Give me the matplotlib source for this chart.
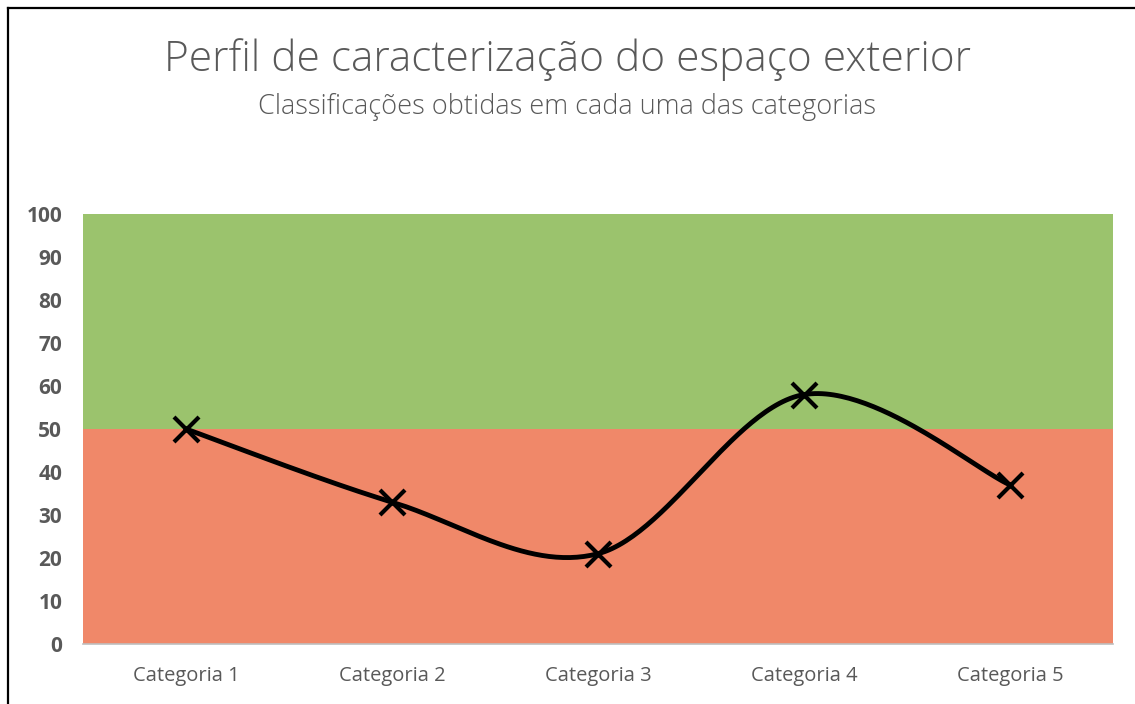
import numpy as np
import matplotlib.pyplot as plt
from matplotlib.lines import Line2D

# ------------------ DATA ------------------
categories = ["Categoria 1", "Categoria 2", "Categoria 3", "Categoria 4", "Categoria 5"]
scores = [50, 33, 21, 58, 37]
band_low = [50, 50, 50, 50, 50]    # red zone
band_high = [50, 50, 50, 50, 50]   # green zone stacked on top
y_ticks = [0, 10, 20, 30, 40, 50, 60, 70, 80, 90, 100]

TITLE = "Perfil de caracterização do espaço exterior"
SUBTITLE = "Classificações obtidas em cada uma das categorias"

GREEN = "#9BC36D"
RED = "#F08869"
TEXT_GREY = "#595959"

plt.rcParams['font.family'] = ['Open Sans', 'DejaVu Sans']


# Excel-style smoothing: cubic bezier with control points from neighbours
def smooth_curve(xs, ys, n=60):
    pts = np.column_stack([xs, ys]).astype(float)
    out = []
    for i in range(len(pts) - 1):
        p0 = pts[i - 1] if i > 0 else pts[i]
        p1 = pts[i]
        p2 = pts[i + 1]
        p3 = pts[i + 2] if i + 2 < len(pts) else pts[i + 1]
        c1 = p1 + (p2 - p0) / 6.0
        c2 = p2 - (p3 - p1) / 6.0
        t = np.linspace(0, 1, n)[:, None]
        seg = ((1 - t) ** 3) * p1 + 3 * ((1 - t) ** 2) * t * c1 + 3 * (1 - t) * t ** 2 * c2 + t ** 3 * p2
        out.append(seg if i == 0 else seg[1:])
    out = np.vstack(out)
    return out[:, 0], out[:, 1]


fig = plt.figure(figsize=(11.35, 7.04), dpi=100)
ax = fig.add_axes([83 / 1135, 1 - 644 / 704, (1113 - 83) / 1135, (644 - 214) / 704])

x = np.arange(len(categories))
ax.bar(x, band_low, width=1.0, color=RED, zorder=1)
ax.bar(x, band_high, bottom=band_low, width=1.0, color=GREEN, zorder=1)

sx, sy = smooth_curve(x, scores)
ax.plot(sx, sy, color="black", lw=3.5, solid_capstyle="round", zorder=3)
ax.plot(x, scores, linestyle="none", marker="x", markersize=18,
        markeredgewidth=3.0, color="black", zorder=4)

ax.set_xlim(-0.5, len(categories) - 0.5)
ax.set_ylim(0, 100)
ax.set_yticks(y_ticks)
ax.set_yticklabels([str(v) for v in y_ticks], fontsize=15, fontweight="bold", color=TEXT_GREY)
ax.set_xticks(x)
ax.set_xticklabels(categories, fontsize=14.5, color=TEXT_GREY)
ax.tick_params(axis="both", length=0)
ax.tick_params(axis="y", pad=15)
ax.tick_params(axis="x", pad=16)

for side in ["top", "right", "left"]:
    ax.spines[side].set_visible(False)
ax.spines["bottom"].set_color("#BFBFBF")
ax.spines["bottom"].set_linewidth(1.2)
ax.spines["bottom"].set_zorder(5)

fig.text(0.5, 1 - 60 / 704, TITLE, ha="center", va="center",
         fontsize=30.5, color=TEXT_GREY, fontweight="light")
fig.text(0.5, 1 - 107 / 704, SUBTITLE, ha="center", va="center",
         fontsize=19.5, color=TEXT_GREY, fontweight="light")

# outer frame (left and top edges visible in the crop)
fig.add_artist(Line2D([7.5 / 1135, 7.5 / 1135], [0, 1 - 7.5 / 704], transform=fig.transFigure,
                      color="black", lw=1.6))
fig.add_artist(Line2D([7.5 / 1135, 1], [1 - 7.5 / 704, 1 - 7.5 / 704], transform=fig.transFigure,
                      color="black", lw=1.6))

fig.savefig("out.png", dpi=100, facecolor="white")
